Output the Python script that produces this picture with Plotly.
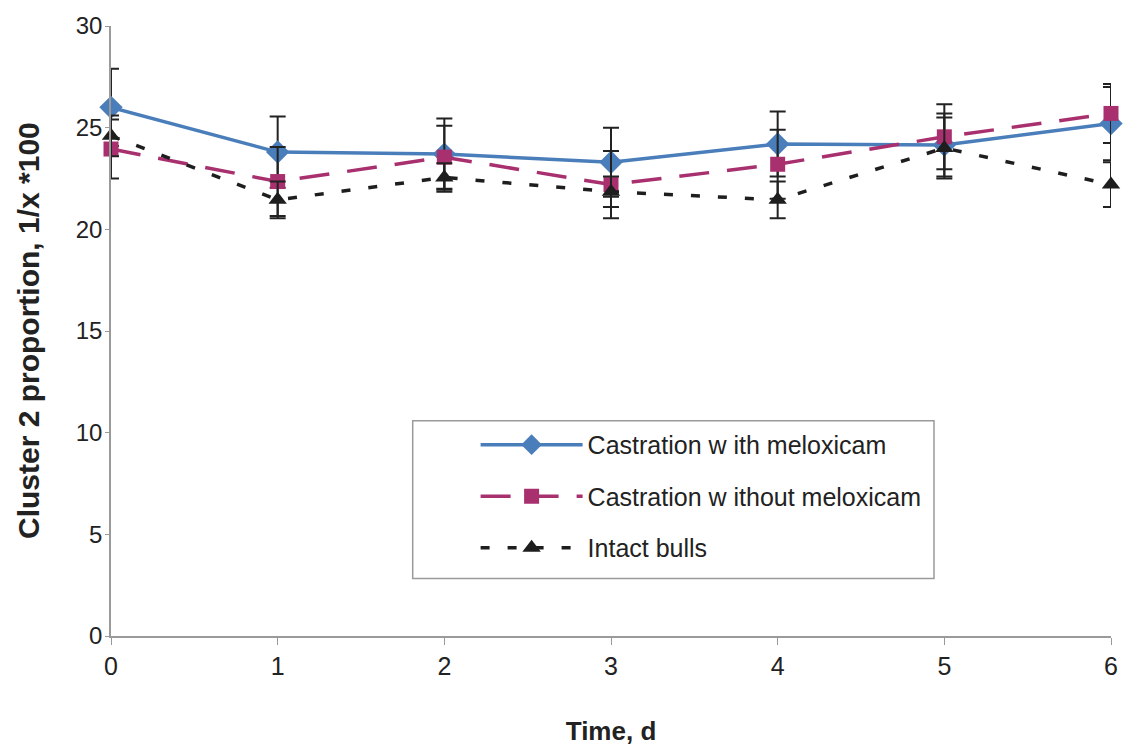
import plotly.graph_objects as go

days = [0, 1, 2, 3, 4, 5, 6]

with_melox = [26.0, 23.8, 23.7, 23.3, 24.2, 24.15, 25.2]
with_melox_se = [1.9, 1.75, 1.75, 1.7, 1.6, 1.55, 1.8]

without_melox = [23.95, 22.35, 23.55, 22.2, 23.2, 24.55, 25.7]
without_melox_se = [1.45, 1.7, 1.55, 1.65, 1.7, 1.6, 1.45]

intact = [24.6, 21.45, 22.55, 21.85, 21.45, 24.0, 22.2]
intact_se = [1.0, 0.9, 0.7, 0.75, 0.9, 1.5, 1.1]

names = ["Castration w ith meloxicam", "Castration w ithout meloxicam", "Intact bulls"]

FONT = "Liberation Sans, Arial, sans-serif"
err_col = "#222222"
axis_col = "#9a9a9a"

fig = go.Figure()

specs = [
    (with_melox, with_melox_se, names[0], "#4A7EBB", "solid", "diamond", 18),
    (without_melox, without_melox_se, names[1], "#A8306E", "30px,18px", "square", 15),
    (intact, intact_se, names[2], "#1E1E1E", "9px,18px", "triangle-up", 16),
]

for i, (vals, se, name, col, dash, sym, size) in enumerate(specs):
    fig.add_trace(go.Scatter(
        x=days, y=vals, name=name, mode="lines+markers",
        legendgroup=f"g{i}",
        line=dict(color=col, width=3.5, dash=dash),
        marker=dict(symbol=sym, size=size, color=col),
        error_y=dict(type="data", array=se, visible=True, color=err_col,
                     thickness=2, width=8),
        cliponaxis=False,
    ))

# legend frame
fig.add_shape(type="rect", xref="paper", yref="paper",
              x0=0.3017, x1=0.823, y0=0.0943, y1=0.3528,
              line=dict(color=axis_col, width=1.5), fillcolor="white", layer="below")

# y-axis title
fig.add_annotation(text="<b>Cluster 2 proportion, 1/x *100</b>", xref="paper", yref="paper",
                   x=-0.083, y=0.5, xanchor="center", yanchor="middle", textangle=-90,
                   showarrow=False, font=dict(family=FONT, size=30, color="#222222"))

fig.update_layout(
    width=1130, height=753,
    margin=dict(l=111, r=18, t=25, b=113),
    paper_bgcolor="white", plot_bgcolor="white",
    font=dict(family=FONT, size=25, color="#222222"),
    showlegend=True,
    legend=dict(
        x=0.3646, y=0.351, xanchor="left", yanchor="top",
        bgcolor="rgba(0,0,0,0)", borderwidth=0,
        font=dict(family=FONT, size=25, color="#222222"),
        itemwidth=102, traceorder="grouped", tracegroupgap=16,
    ),
    xaxis=dict(
        range=[0, 6], tickvals=days, ticktext=[str(d) for d in days],
        showgrid=False, zeroline=False, showline=True, linecolor=axis_col,
        linewidth=1.5, ticks="outside", ticklen=7, tickcolor=axis_col,
        tickfont=dict(size=25, family=FONT),
        title=dict(text="<b>Time, d</b>", font=dict(size=26, family=FONT), standoff=43),
    ),
    yaxis=dict(
        range=[0, 30], tickvals=[0, 5, 10, 15, 20, 25, 30],
        showgrid=False, zeroline=False, showline=True, linecolor=axis_col,
        linewidth=1.5, ticks="outside", ticklen=4, tickcolor=axis_col,
        tickfont=dict(size=24, family=FONT), ticklabelstandoff=-2,
    ),
)

fig.write_html("out.html")
